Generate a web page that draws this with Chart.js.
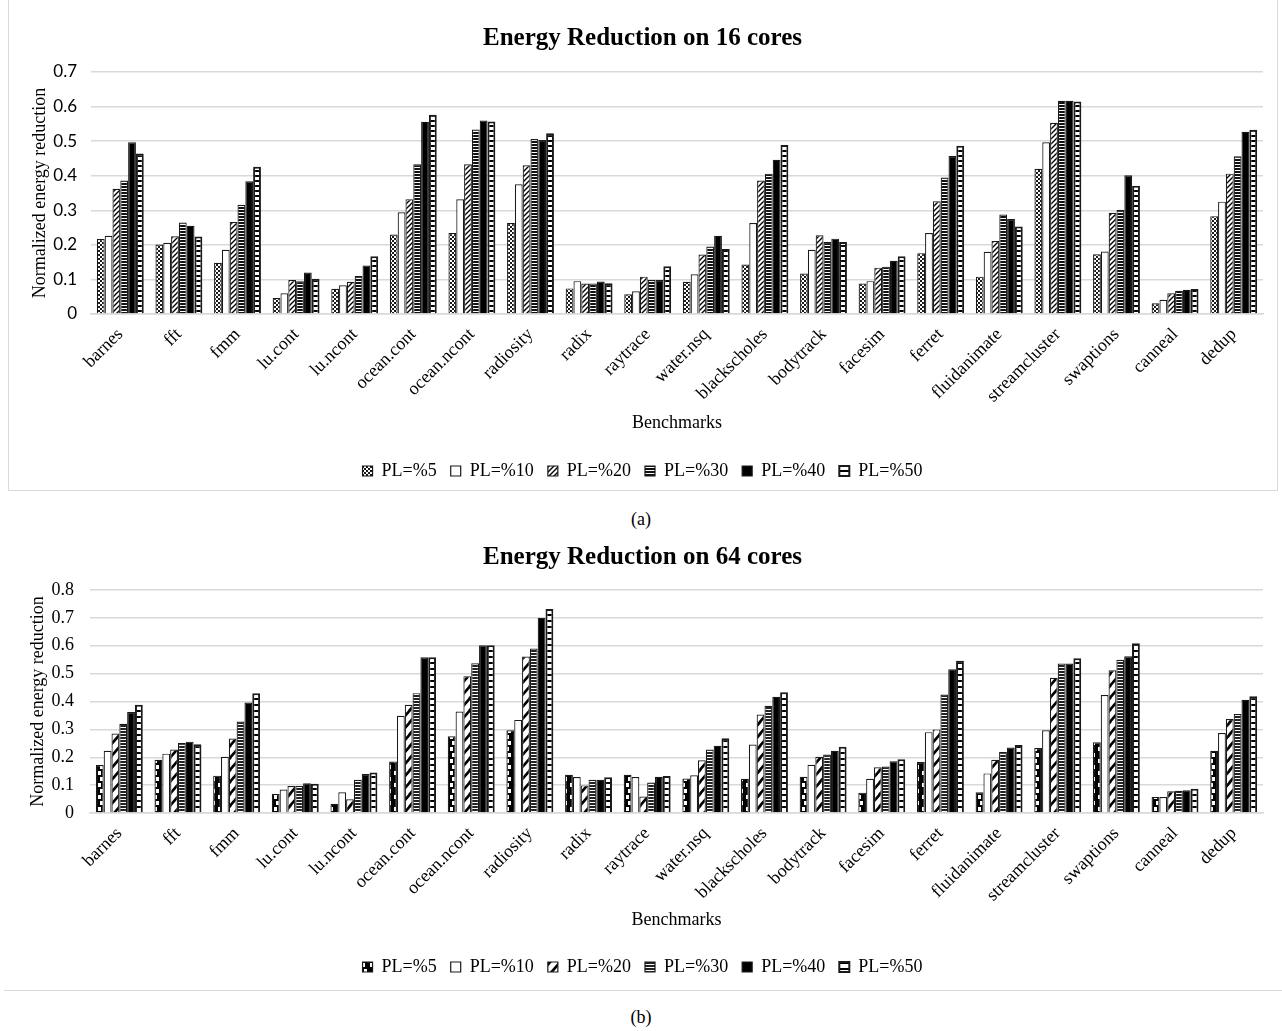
<!DOCTYPE html>
<html>
<head>
<meta charset="utf-8">
<script src="https://cdn.jsdelivr.net/npm/chart.js@4/dist/chart.umd.min.js"></script>
<style>
  body { margin: 0; background: #fff; width: 1282px; height: 1031px; position: relative; overflow: hidden; }
  .frame { position: absolute; box-sizing: border-box; }
  #frame-a { left: 8px; top: -2px; width: 1270px; height: 493px; border: 1px solid #d9d9d9; }
  #frame-b { left: 4px; top: 528px; width: 1278px; height: 463px; border-bottom: 1px solid #d9d9d9; }
  canvas { position: absolute; left: 0; }
  #chart16 { top: 0; }
  #chart64 { top: 530px; }
  .caption { position: absolute; width: 1282px; text-align: center; font: 18px "Liberation Serif", serif; color: #000; }
</style>
</head>
<body>
<div class="frame" id="frame-a"></div>
<div class="frame" id="frame-b"></div>
<canvas id="chart16" width="1282" height="490"></canvas>
<canvas id="chart64" width="1282" height="460"></canvas>
<div class="caption" style="top:509px">(a)</div>
<div class="caption" style="top:1007px">(b)</div>
<script>
// benchmarks on the x axis
const benchmarks = ['barnes', 'fft', 'fmm', 'lu.cont', 'lu.ncont', 'ocean.cont', 'ocean.ncont', 'radiosity', 'radix', 'raytrace',
    'water.nsq', 'blackscholes', 'bodytrack', 'facesim', 'ferret', 'fluidanimate', 'streamcluster', 'swaptions', 'canneal', 'dedup'];
const seriesNames = ['PL=%5', 'PL=%10', 'PL=%20', 'PL=%30', 'PL=%40', 'PL=%50'];

// (a) 16 cores
const c16_pl5  = [0.217, 0.201, 0.148, 0.046, 0.073, 0.230, 0.234, 0.263, 0.074, 0.057, 0.093, 0.143, 0.117, 0.088, 0.176, 0.108, 0.420, 0.173, 0.031, 0.283];
const c16_pl10 = [0.226, 0.206, 0.186, 0.060, 0.083, 0.294, 0.332, 0.375, 0.095, 0.066, 0.115, 0.263, 0.186, 0.095, 0.234, 0.180, 0.497, 0.181, 0.041, 0.325];
const c16_pl20 = [0.362, 0.225, 0.266, 0.098, 0.093, 0.332, 0.433, 0.430, 0.088, 0.108, 0.172, 0.386, 0.228, 0.134, 0.326, 0.211, 0.553, 0.293, 0.060, 0.406];
const c16_pl30 = [0.386, 0.265, 0.316, 0.095, 0.110, 0.433, 0.534, 0.506, 0.088, 0.098, 0.195, 0.406, 0.208, 0.137, 0.395, 0.288, 0.617, 0.301, 0.067, 0.456];
const c16_pl40 = [0.497, 0.255, 0.384, 0.120, 0.140, 0.556, 0.560, 0.503, 0.094, 0.098, 0.226, 0.446, 0.218, 0.154, 0.457, 0.275, 0.617, 0.401, 0.070, 0.527];
const c16_pl50 = [0.464, 0.224, 0.426, 0.102, 0.167, 0.576, 0.557, 0.523, 0.089, 0.138, 0.188, 0.489, 0.208, 0.167, 0.487, 0.253, 0.615, 0.371, 0.072, 0.533];

// (b) 64 cores
const c64_pl5  = [0.172, 0.191, 0.134, 0.068, 0.033, 0.185, 0.275, 0.297, 0.137, 0.137, 0.124, 0.123, 0.130, 0.073, 0.183, 0.074, 0.233, 0.254, 0.057, 0.223];
const c64_pl10 = [0.223, 0.213, 0.202, 0.084, 0.074, 0.349, 0.364, 0.334, 0.129, 0.129, 0.135, 0.246, 0.173, 0.123, 0.290, 0.142, 0.297, 0.423, 0.057, 0.287];
const c64_pl20 = [0.285, 0.228, 0.267, 0.097, 0.049, 0.388, 0.491, 0.561, 0.099, 0.059, 0.189, 0.353, 0.202, 0.164, 0.300, 0.191, 0.485, 0.512, 0.078, 0.337];
const c64_pl30 = [0.320, 0.251, 0.328, 0.097, 0.119, 0.430, 0.537, 0.590, 0.119, 0.109, 0.228, 0.385, 0.210, 0.167, 0.425, 0.219, 0.536, 0.550, 0.080, 0.355];
const c64_pl40 = [0.362, 0.256, 0.396, 0.107, 0.140, 0.559, 0.602, 0.700, 0.119, 0.130, 0.241, 0.417, 0.223, 0.186, 0.516, 0.235, 0.536, 0.562, 0.082, 0.406];
const c64_pl50 = [0.388, 0.247, 0.430, 0.105, 0.145, 0.559, 0.602, 0.732, 0.128, 0.133, 0.268, 0.433, 0.238, 0.193, 0.546, 0.244, 0.555, 0.609, 0.087, 0.419];

const SERIF = '"Liberation Serif", "Times New Roman", serif';

// small tile -> CanvasPattern
function tile(w, h, draw) {
    const c = document.createElement('canvas');
    c.width = w; c.height = h;
    const g = c.getContext('2d');
    g.fillStyle = '#fff';
    g.fillRect(0, 0, w, h);
    draw(g);
    return c.getContext('2d').createPattern(c, 'repeat');
}

function diag(g, w, h, lw) {
    g.strokeStyle = '#000';
    g.lineWidth = lw;
    g.beginPath();
    g.moveTo(-1, h + 1); g.lineTo(w + 1, -1);
    g.moveTo(-1 - w, h + 1); g.lineTo(1, -1);
    g.moveTo(w - 1, h + 1); g.lineTo(2 * w + 1, -1);
    g.stroke();
}

const fills16 = [
    tile(4, 4, g => { g.fillStyle = '#1a1a1a'; g.fillRect(0, 0, 2, 2); g.fillRect(2, 2, 2, 2); g.fillRect(1, 1, 1, 1); }),
    '#ffffff',
    tile(5, 5, g => diag(g, 5, 5, 1.4)),
    tile(1, 3, g => { g.fillStyle = '#111'; g.fillRect(0, 0, 1, 2); }),
    '#000000',
    tile(1, 5, g => { g.fillStyle = '#000'; g.fillRect(0, 0, 1, 2); })
];

const fills64 = [
    tile(8, 12, g => { g.fillStyle = '#000'; g.fillRect(0, 0, 8, 12); g.fillStyle = '#fff'; g.fillRect(2, 1, 3, 4); g.fillRect(4, 7, 3, 4); }),
    '#ffffff',
    tile(10, 12, g => diag(g, 10, 12, 2.6)),
    tile(1, 3, g => { g.fillStyle = '#222'; g.fillRect(0, 0, 1, 2); }),
    '#000000',
    tile(1, 6, g => { g.fillStyle = '#000'; g.fillRect(0, 0, 1, 2); })
];

function makeChart(id, values, fills, cfg) {
    const datasets = values.map((v, i) => ({
        label: seriesNames[i],
        data: v,
        backgroundColor: fills[i],
        borderColor: '#1a1a1a',
        borderWidth: i === 5 ? 2 : 1.2,
        categoryPercentage: 0.8,
        barPercentage: 1.0
    }));

    return new Chart(document.getElementById(id), {
        type: 'bar',
        data: { labels: benchmarks, datasets: datasets },
        options: {
            responsive: false,
            animation: false,
            layout: { padding: { left: 22, right: 19, top: 0, bottom: cfg.padBottom } },
            plugins: {
                title: {
                    display: true,
                    text: cfg.title,
                    color: '#000',
                    font: { family: SERIF, size: 25, weight: 'bold' },
                    padding: { top: cfg.titleTop, bottom: cfg.titleBottom }
                },
                legend: {
                    position: 'bottom',
                    labels: {
                        color: '#000',
                        font: { family: SERIF, size: 18 },
                        boxWidth: 10,
                        boxHeight: 10,
                        padding: 14
                    }
                },
                tooltip: { enabled: false }
            },
            scales: {
                x: {
                    grid: { display: false },
                    border: { display: true, color: '#d9d9d9', width: 1.5 },
                    ticks: {
                        color: '#000',
                        font: { family: SERIF, size: 18 },
                        minRotation: 45,
                        maxRotation: 45,
                        autoSkip: false,
                        padding: 2
                    },
                    title: {
                        display: true,
                        text: 'Benchmarks',
                        color: '#000',
                        font: { family: SERIF, size: 18 },
                        padding: { top: cfg.xTitlePad, bottom: cfg.xTitlePad }
                    },
                    afterFit: s => { s.height = cfg.xHeight; }
                },
                y: {
                    min: 0,
                    max: cfg.yMax,
                    grid: { color: '#d9d9d9', lineWidth: 1.5, drawTicks: false },
                    border: { display: false },
                    ticks: {
                        stepSize: 0.1,
                        color: '#000',
                        font: cfg.yTickFont,
                        padding: cfg.yTickPad
                    },
                    title: {
                        display: true,
                        text: 'Normalized energy reduction',
                        color: '#000',
                        font: { family: SERIF, size: 18 },
                        padding: { top: cfg.yTitlePad, bottom: 0 }
                    },
                    afterFit: s => { s.width = cfg.yWidth; }
                }
            }
        }
    });
}

document.addEventListener('DOMContentLoaded', function() {
    // (a) Energy Reduction on 16 cores
    makeChart('chart16', [c16_pl5, c16_pl10, c16_pl20, c16_pl30, c16_pl40, c16_pl50], fills16, {
        title: 'Energy Reduction on 16 cores',
        titleTop: 24, titleBottom: 18,
        padBottom: 0,
        xHeight: 134, xTitlePad: 14,
        yMax: 0.7, yWidth: 69, yTickPad: 14, yTitlePad: 7,
        yTickFont: { family: 'Lato, "Open Sans", sans-serif', size: 17 }
    });

    // (b) Energy Reduction on 64 cores
    makeChart('chart64', [c64_pl5, c64_pl10, c64_pl20, c64_pl30, c64_pl40, c64_pl50], fills64, {
        title: 'Energy Reduction on 64 cores',
        titleTop: 13, titleBottom: 17,
        padBottom: 4,
        xHeight: 131, xTitlePad: 13,
        yMax: 0.8, yWidth: 68, yTickPad: 16, yTitlePad: 5,
        yTickFont: { family: SERIF, size: 18 }
    });
});
</script>
</body>
</html>
